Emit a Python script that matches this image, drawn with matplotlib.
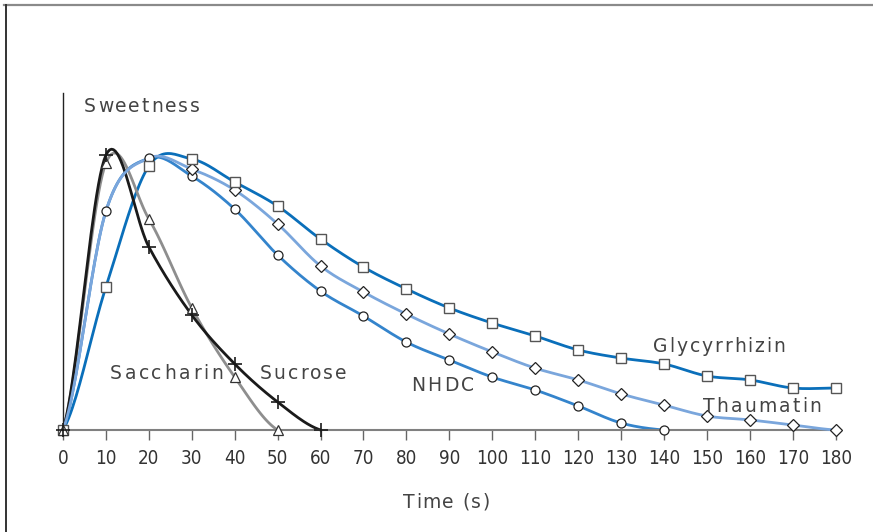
import numpy as np
import matplotlib
matplotlib.use("Agg")
import matplotlib.pyplot as plt
from matplotlib.lines import Line2D
from matplotlib.font_manager import FontProperties, fontManager
from matplotlib.transforms import IdentityTransform

# Zeitachse (s)
time = [0, 10, 20, 30, 40, 50, 60, 70, 80, 90, 100, 110, 120, 130, 140, 150, 160, 170, 180]

# Suesse (relative Einheiten)
glycyrrhizin = [0, 51.1, 94.3, 96.8, 88.6, 80.0, 68.2, 58.2, 50.4, 43.6, 38.2, 33.6,
                28.6, 25.7, 23.6, 19.3, 17.9, 15.0, 15.0]
thaumatin = [0, 78.2, 97.1, 93.2, 85.7, 73.6, 58.6, 49.3, 41.4, 34.3, 27.9, 22.1,
             17.9, 12.9, 8.9, 5.0, 3.6, 1.8, 0]
nhdc = [0, 78.2, 97.1, 90.7, 78.9, 62.5, 49.6, 40.7, 31.4, 25.0, 18.9, 14.3, 8.6, 2.5, 0]
saccharin = [0, 95.4, 75.4, 43.6, 18.9, 0]
sucrose = [0, 98.2, 65.4, 41.1, 23.6, 10.0, 0]

xticks = list(range(0, 181, 10))

W, H = 873, 532


def smooth(x, y, n=24):
    """Catmull-Rom Kurve durch die Punkte (wie geglaettete Linie)."""
    x = np.asarray(x, float)
    y = np.asarray(y, float)
    px = np.concatenate([[2 * x[0] - x[1]], x, [2 * x[-1] - x[-2]]])
    py = np.concatenate([[y[0]], y, [y[-1]]])
    xs, ys = [], []
    t = np.linspace(0, 1, n)
    h00 = 2 * t**3 - 3 * t**2 + 1
    h10 = t**3 - 2 * t**2 + t
    h01 = -2 * t**3 + 3 * t**2
    h11 = t**3 - t**2
    for i in range(1, len(px) - 2):
        m0y = (py[i + 1] - py[i - 1]) / 2
        m1y = (py[i + 2] - py[i]) / 2
        xs.append(px[i] + (px[i + 1] - px[i]) * t)
        ys.append(h00 * py[i] + h10 * m0y + h01 * py[i + 1] + h11 * m1y)
    return np.concatenate(xs), np.concatenate(ys)


fig = plt.figure(figsize=(W / 100, H / 100), dpi=100)
renderer = fig.canvas.get_renderer()
label_prop = FontProperties(family="DejaVu Sans", size=13.5)


def spaced_text(left_px, base_px, s, width_px, color="#444444"):
    """Text mit Sperrung: Zeichen einzeln, so dass die Breite width_px ist."""
    pre = [renderer.get_text_width_height_descent(s[:i], label_prop, ismath=False)[0]
           if i else 0.0 for i in range(len(s) + 1)]
    gap = (width_px - pre[-1]) / max(len(s) - 1, 1)
    for i, ch in enumerate(s):
        fig.text(left_px + pre[i] + i * gap, H - base_px, ch, transform=IdentityTransform(),
                 fontproperties=label_prop, color=color, ha="left", va="baseline")


names = {f.name for f in fontManager.ttflist}
if "Liberation Sans Narrow" in names:
    tick_font = dict(family="Liberation Sans Narrow", size=15.5)
else:
    tick_font = dict(family="DejaVu Sans", stretch="condensed", size=13.5)

ax = fig.add_axes([63 / W, 1 - 430 / H, 777 / W, 337 / H])
ax.set_xlim(0, 181)
ax.set_ylim(0, 120.4)

lw = 2.0
series = [
    (time[:len(nhdc)], nhdc, "#3484cc", 2),
    (time, thaumatin, "#7aa6dc", 3),
    (time, glycyrrhizin, "#0a6fba", 2),
    (time[:len(saccharin)], saccharin, "#8e8e8e", 2),
    (time[:len(sucrose)], sucrose, "#1a1a1a", 2),
]
for x, y, col, z in series:
    sx, sy = smooth(x, y)
    ax.plot(sx, sy, color=col, lw=lw, zorder=z, clip_on=False, solid_capstyle="round")

# Marker
ax.plot(time[:len(nhdc)], nhdc, ls="none", marker="o", ms=6.5, mfc="white",
        mec="#222222", mew=0.9, zorder=5, clip_on=False)
ax.plot(time[3:], thaumatin[3:], ls="none", marker="D", ms=6, mfc="white",
        mec="#222222", mew=0.9, zorder=5, clip_on=False)
ax.plot(time, glycyrrhizin, ls="none", marker="s", ms=6.5, mfc="white",
        mec="#555555", mew=1.0, zorder=5, clip_on=False)
ax.plot(time[:len(saccharin)], saccharin, ls="none", marker="^", ms=6.5, mfc="white",
        mec="#333333", mew=0.9, zorder=6, clip_on=False)
ax.plot(time[:len(sucrose)], sucrose, ls="none", marker="+", ms=9.5, mec="#1a1a1a",
        mew=1.2, zorder=6, clip_on=False)

for s in ["top", "right"]:
    ax.spines[s].set_visible(False)
ax.spines["left"].set_color("#222222")
ax.spines["left"].set_linewidth(1.0)
ax.spines["bottom"].set_color("#808080")
ax.spines["bottom"].set_linewidth(1.5)
ax.set_yticks([])
ax.set_xticks(xticks)
ax.set_xticklabels([str(v) for v in xticks], fontdict=tick_font)
ax.tick_params(axis="x", direction="out", length=7.5, width=1.0, color="#666666",
               labelcolor="#333333", pad=6)

# Beschriftungen (links, Grundlinie, Breite in Pixel)
spaced_text(84, 112, "Sweetness", 116)
spaced_text(110, 379, "Saccharin", 113)
spaced_text(260, 379, "Sucrose", 86)
spaced_text(411, 391, "NHDC", 63)
spaced_text(653, 352, "Glycyrrhizin", 132)
spaced_text(703, 412, "Thaumatin", 118)
spaced_text(403, 508, "Time (s)", 87)

# Rahmen oben und links
fig.add_artist(Line2D([4 / W, 1], [1 - 5 / H, 1 - 5 / H], color="#8a8a8a", lw=1.6))
fig.add_artist(Line2D([6 / W, 6 / W], [0, 1 - 5 / H], color="#333333", lw=1.4))

fig.savefig("out.png", dpi=100)
